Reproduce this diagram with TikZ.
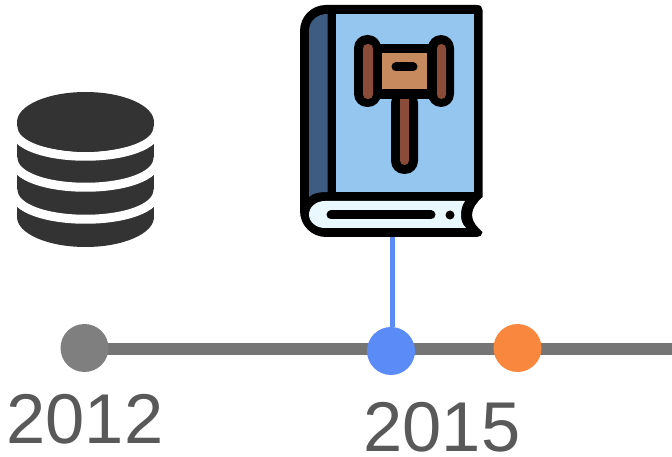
\documentclass[tikz,border=0pt]{standalone}
\usepackage{fontspec}
\setmainfont{Liberation Sans}
\definecolor{axisgrey}{HTML}{757575}
\definecolor{dotgrey}{HTML}{7F7F7F}
\definecolor{dotblue}{HTML}{5B8BF7}
\definecolor{dotorange}{HTML}{F9873E}
\definecolor{yeargrey}{HTML}{595959}
\definecolor{dbgrey}{HTML}{333333}
\definecolor{coverblue}{HTML}{94C6F0}
\definecolor{spineblue}{HTML}{3E5C82}
\definecolor{pagewhite}{HTML}{E9F8FE}
\definecolor{gavelbrown}{HTML}{8A4B38}
\definecolor{gaveltan}{HTML}{C68A5E}
\tikzset{
  dot/.style={circle,inner sep=0pt,minimum size=48pt},
  year/.style={text=yeargrey,inner sep=0pt,font=\fontsize{70.5}{70.5}\selectfont},
  axisline/.style={axisgrey,line width=12pt},
  dbband/.style={white,line width=9pt}
}
\begin{document}
\begin{tikzpicture}[x=1pt,y=-1pt]
            \useasboundingbox (0,0) rectangle (672,457);
            % database
            \fill [dbgrey] (17,122) rectangle (154,217);
            \fill [dbgrey] (85.5,217) ellipse (68.5 and 30);
            \draw [dbband] (13,127) .. controls (13,166) and (158,166) .. (158,127);
            \draw [dbband] (13,158) .. controls (13,197) and (158,197) .. (158,158);
            \draw [dbband] (13,190) .. controls (13,229) and (158,229) .. (158,190);
            \fill [dbgrey] (85.5,122) ellipse (68.5 and 30);
            % book
            \fill (326,5) -- (477,5) .. controls (480.5,5) and (482.5,7) .. (482.5,10) -- (482.5,197) .. controls (477,202) and (472,208) .. (472,215) .. controls (472,222) and (477,227) .. (482.5,232) .. controls (482.5,235) and (480,237) .. (477,237) -- (326,237) .. controls (311.6,237) and (300,225.4) .. (300,211) -- (300,31) .. controls (300,16.6) and (311.6,5) .. (326,5) -- cycle;
            \fill [coverblue] (336,14) rectangle (473.5,192);
            \fill [spineblue] (327.5,14) -- (327.5,192) .. controls (319,192) and (313,193) .. (309,197) -- (309,31) .. controls (309,21) and (317,14) .. (327.5,14) -- cycle;
            \fill [pagewhite] (325,201) -- (465,201) .. controls (462,205) and (461,210) .. (461,215) .. controls (461,220) and (462,224) .. (466,228) -- (325,228) .. controls (316,228) and (309,222) .. (309,214.5) .. controls (309,207) and (316,201) .. (325,201) -- cycle;
            \draw [line width=9pt,line cap=round] (331,215) to (431,215);
            \fill (450,215) circle (4.5);
            % gavel
            \fill [rounded corners=13pt] (354,35) rectangle (381,107);
            \fill [rounded corners=13pt] (428,35) rectangle (454,107);
            \fill (375,44) rectangle (435,99);
            \fill [rounded corners=13pt] (391,90) rectangle (418,174);
            \fill [gaveltan] (382,53) rectangle (427,89);
            \fill [gavelbrown,rounded corners=4.5pt] (363,44) rectangle (373,99);
            \fill [gavelbrown,rounded corners=4.5pt] (437,44) rectangle (446,99);
            \fill [gavelbrown,rounded corners=4.5pt] (400,90) -- (409,90) -- (409,165) -- (400,165) -- cycle;
            \fill (381,89) rectangle (428,99);
            \draw [line width=9pt,line cap=round] (396,67) to (413,67);
            % timeline
            \coordinate (axisstart) at (84,349);
            \coordinate (axisend) at (672,349);
            \coordinate (book) at (392,237);
            \draw [axisline] (axisstart) to (axisend);
            \node [dot,fill=dotgrey] (dot2012) at (84.5,348) {};
            \node [dot,fill=dotorange] (dotorange) at (517.5,348) {};
            \node [dot,fill=dotblue] (dot2015) at (391,351) {};
            \draw [dotblue,line width=5pt] (book) to (book |- dot2015.north);
            \node [year] (year2012) at (85,419) {2012};
            \node [year] (year2015) at (442,427) {2015};
          \end{tikzpicture}
\end{document}
